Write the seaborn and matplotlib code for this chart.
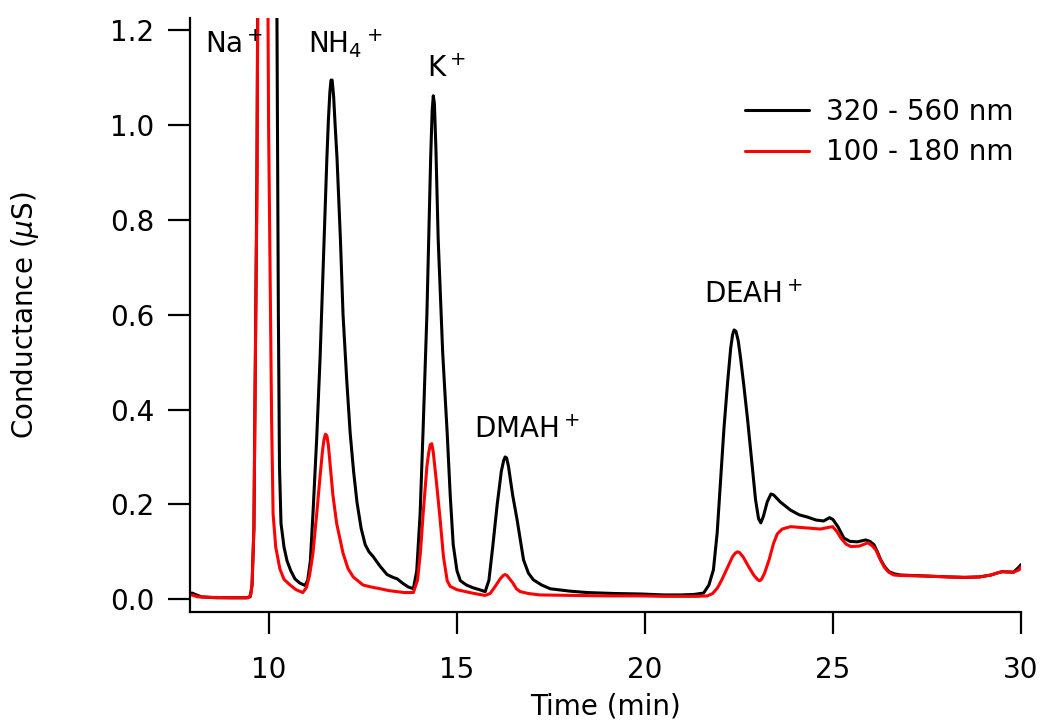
import matplotlib
matplotlib.use("Agg")
import matplotlib.pyplot as plt
import seaborn as sns
import pandas as pd

# ---- data ----
series_names = ["320 - 560 nm", "100 - 180 nm"]
series_colors = ["#000000", "#ff0000"]

t_black = [7.95, 8.2, 8.6, 9.0, 9.4, 9.5, 9.55, 9.6, 9.63, 9.68, 9.72, 9.95,
           10.19, 10.22, 10.25, 10.28, 10.32, 10.4, 10.48, 10.58, 10.69, 10.82,
           10.96, 11.03, 11.1, 11.17, 11.27, 11.36, 11.45, 11.54, 11.58, 11.62,
           11.65, 11.68, 11.72, 11.76, 11.81, 11.9, 11.97, 12.07, 12.16, 12.25,
           12.34, 12.45, 12.56, 12.66, 12.77, 12.95, 13.14, 13.3, 13.41, 13.55,
           13.7, 13.84, 13.93, 14.02, 14.1, 14.2, 14.26, 14.3, 14.34, 14.37,
           14.4, 14.44, 14.5, 14.62, 14.74, 14.82, 14.9, 15.0, 15.09, 15.25,
           15.43, 15.6, 15.75, 15.85, 15.95, 16.07, 16.18, 16.24, 16.28, 16.32,
           16.37, 16.48, 16.6, 16.77, 16.9, 17.03, 17.25, 17.48, 18.0, 18.47,
           19.2, 19.88, 20.5, 20.95, 21.3, 21.56, 21.7, 21.82, 21.92, 22.01,
           22.1, 22.2, 22.28, 22.33, 22.37, 22.42, 22.48, 22.54, 22.63, 22.73,
           22.84, 22.94, 23.02, 23.08, 23.15, 23.25, 23.35, 23.42, 23.6, 23.87,
           24.1, 24.33, 24.55, 24.75, 24.91, 25.0, 25.13, 25.29, 25.45, 25.65,
           25.87, 25.98, 26.09, 26.18, 26.27, 26.38, 26.49, 26.65, 26.8, 27.4,
           28.06, 28.5, 28.9, 29.2, 29.4, 29.5, 29.8, 29.95, 30.0]
v_black = [0.013, 0.005, 0.003, 0.003, 0.003, 0.005, 0.03, 0.15, 0.43, 0.90, 1.60, 4.00,
           1.60, 1.10, 0.60, 0.28, 0.16, 0.11, 0.081, 0.06, 0.043, 0.034,
           0.029, 0.04, 0.08, 0.18, 0.34, 0.51, 0.72, 0.93, 1.01, 1.07,
           1.095, 1.095, 1.06, 1.0, 0.93, 0.76, 0.60, 0.46, 0.35, 0.27,
           0.205, 0.15, 0.115, 0.10, 0.09, 0.07, 0.052, 0.046, 0.043, 0.034,
           0.026, 0.022, 0.06, 0.18, 0.36, 0.60, 0.80, 0.93, 1.03, 1.062,
           1.045, 0.95, 0.76, 0.52, 0.35, 0.22, 0.115, 0.06, 0.039, 0.03,
           0.024, 0.02, 0.016, 0.04, 0.11, 0.20, 0.27, 0.292, 0.30, 0.298,
           0.28, 0.22, 0.167, 0.083, 0.055, 0.041, 0.03, 0.022, 0.017, 0.014,
           0.012, 0.011, 0.009, 0.009, 0.01, 0.013, 0.03, 0.062, 0.14, 0.25,
           0.36, 0.46, 0.53, 0.558, 0.568, 0.565, 0.545, 0.51, 0.45, 0.378,
           0.29, 0.21, 0.17, 0.161, 0.175, 0.205, 0.222, 0.22, 0.205, 0.188,
           0.178, 0.173, 0.167, 0.165, 0.172, 0.168, 0.153, 0.129, 0.122, 0.121,
           0.125, 0.122, 0.115, 0.10, 0.083, 0.068, 0.058, 0.053, 0.051, 0.049,
           0.047, 0.046, 0.047, 0.051, 0.056, 0.058, 0.057, 0.068, 0.073]

t_red = [7.95, 8.1, 8.4, 9.0, 9.45, 9.52, 9.55, 9.6, 9.63, 9.68, 9.72, 9.85,
         9.95, 9.99, 10.03, 10.07, 10.11, 10.18, 10.29, 10.4, 10.56, 10.72,
         10.9, 11.0, 11.08, 11.17, 11.27, 11.36, 11.42, 11.46, 11.5, 11.54,
         11.58, 11.62, 11.7, 11.8, 11.97, 12.1, 12.24, 12.5, 12.7, 12.96,
         13.2, 13.41, 13.6, 13.84, 13.95, 14.03, 14.1, 14.2, 14.25, 14.29,
         14.33, 14.37, 14.45, 14.55, 14.64, 14.74, 14.82, 15.0, 15.17, 15.4,
         15.6, 15.75, 15.88, 16.0, 16.15, 16.23, 16.28, 16.33, 16.4, 16.48,
         16.58, 16.68, 16.9, 17.2, 18.0, 19.0, 19.88, 20.5, 20.95, 21.4,
         21.66, 21.8, 21.93, 22.05, 22.2, 22.33, 22.4, 22.46, 22.52, 22.62,
         22.76, 22.9, 23.0, 23.05, 23.1, 23.18, 23.3, 23.42, 23.52, 23.65,
         23.87, 24.2, 24.67, 24.85, 24.99, 25.1, 25.21, 25.35, 25.48, 25.7,
         25.93, 26.05, 26.14, 26.25, 26.36, 26.48, 26.62, 26.8, 27.4, 28.06,
         28.5, 28.9, 29.2, 29.4, 29.5, 29.8, 29.95, 30.0]
v_red = [0.009, 0.005, 0.004, 0.003, 0.003, 0.01, 0.03, 0.15, 0.43, 0.85, 1.6, 3.0,
         1.6, 1.0, 0.68, 0.38, 0.18, 0.11, 0.064, 0.042, 0.03, 0.02,
         0.014, 0.025, 0.05, 0.097, 0.18, 0.26, 0.31, 0.335, 0.348, 0.345,
         0.325, 0.29, 0.22, 0.16, 0.097, 0.065, 0.047, 0.03, 0.026, 0.022,
         0.018, 0.016, 0.014, 0.014, 0.04, 0.10, 0.18, 0.28, 0.31, 0.326,
         0.328, 0.31, 0.25, 0.17, 0.09, 0.039, 0.027, 0.02, 0.017, 0.013,
         0.01, 0.008, 0.012, 0.025, 0.043, 0.05, 0.052, 0.05, 0.043, 0.035,
         0.022, 0.016, 0.012, 0.009, 0.008, 0.007, 0.007, 0.006, 0.006, 0.006,
         0.007, 0.012, 0.024, 0.042, 0.068, 0.09, 0.097, 0.1, 0.098, 0.088,
         0.068, 0.05, 0.041, 0.039, 0.042, 0.055, 0.083, 0.118, 0.138, 0.148,
         0.153, 0.151, 0.148, 0.151, 0.153, 0.143, 0.129, 0.116, 0.111, 0.112,
         0.119, 0.112, 0.104, 0.085, 0.068, 0.057, 0.051, 0.05, 0.049, 0.047,
         0.046, 0.047, 0.051, 0.056, 0.058, 0.057, 0.062, 0.068]

peak_labels = [r"Na$^+$", r"NH$_4$$^+$", r"K$^+$", r"DMAH$^+$", r"DEAH$^+$"]
peak_label_t = [8.29, 11.04, 14.21, 15.44, 21.57]
peak_label_v = [1.152, 1.152, 1.101, 0.340, 0.624]

x_ticks = [10, 15, 20, 25, 30]
y_ticks = [0.0, 0.2, 0.4, 0.6, 0.8, 1.0, 1.2]
y_tick_labels = ["0.0", "0.2", "0.4", "0.6", "0.8", "1.0", "1.2"]

# ---- build table ----
df = pd.concat([
    pd.DataFrame({"t": t_black, "v": v_black, "series": series_names[0]}),
    pd.DataFrame({"t": t_red, "v": v_red, "series": series_names[1]}),
], ignore_index=True)

sns.set_theme(style="ticks")
plt.rcParams["font.family"] = ["DejaVu Sans"]
plt.rcParams["mathtext.fontset"] = "dejavusans"
plt.rcParams["mathtext.default"] = "regular"
plt.rcParams["text.color"] = "black"
plt.rcParams["axes.labelcolor"] = "black"
plt.rcParams["xtick.color"] = "black"
plt.rcParams["ytick.color"] = "black"

fig = plt.figure(figsize=(10.42, 7.22), dpi=100)
ax = fig.add_axes([190 / 1042, 1 - 612 / 722, (1021 - 190) / 1042, (612 - 18) / 722])

sns.lineplot(data=df, x="t", y="v", hue="series", hue_order=series_names,
             palette=dict(zip(series_names, series_colors)), estimator=None,
             sort=False, linewidth=2.2, ax=ax, legend=True)

ax.set_xlim(7.9, 30.0)
ax.set_ylim(-0.027, 1.226)
ax.set_xticks(x_ticks)
ax.set_xticklabels([str(x) for x in x_ticks])
ax.set_yticks(y_ticks)
ax.set_yticklabels(y_tick_labels)

for s in ["top", "right"]:
    ax.spines[s].set_visible(False)
for s in ["left", "bottom"]:
    ax.spines[s].set_linewidth(1.6)
    ax.spines[s].set_color("black")
ax.tick_params(axis="both", direction="out", length=15.5, width=1.6,
               labelsize=20, colors="black")
ax.tick_params(axis="x", pad=16)
ax.tick_params(axis="y", pad=10)

ax.set_xlabel("Time (min)", fontsize=20, labelpad=6, color="black")
ax.set_ylabel(r"Conductance ($\mathit{\mu}$S)", fontsize=20, labelpad=50, color="black")

for lab, tx, vy in zip(peak_labels, peak_label_t, peak_label_v):
    ax.text(tx, vy, lab, fontsize=20, ha="left", va="baseline", color="black")

handles, labels = ax.get_legend_handles_labels()
leg = ax.legend(handles, labels, loc="upper left", frameon=False, fontsize=20,
                bbox_to_anchor=(745 / 1042, 1 - 98 / 722), bbox_transform=fig.transFigure,
                borderaxespad=0, borderpad=0, handlelength=2.3, handletextpad=0.6,
                labelspacing=0.45)
for line in leg.get_lines():
    line.set_linewidth(2.2)
for txt in leg.get_texts():
    txt.set_color("black")

fig.savefig("out.png", dpi=100)
